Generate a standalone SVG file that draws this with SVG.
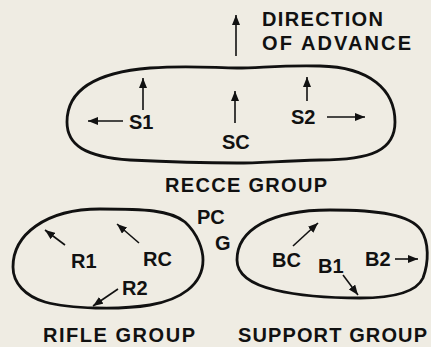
<svg xmlns="http://www.w3.org/2000/svg" width="431" height="347" viewBox="0 0 431 347">
<style>
.bg{fill:#efece3}
.outline{fill:none;stroke:#111;stroke-width:2.8;stroke-linejoin:round}
.arr{fill:none;stroke:#111;stroke-width:1.6;marker-end:url(#ah)}
text{font-family:"Liberation Sans",Arial,Helvetica,sans-serif;font-weight:bold;font-size:20px;fill:#111}
.title{font-size:20px}
</style>
<defs>
<marker id="ah" markerUnits="userSpaceOnUse" markerWidth="11" markerHeight="8" refX="10" refY="4" orient="auto">
<path d="M0,0 L10,4 L0,8 Z" fill="#111"/>
</marker>
</defs>
<rect class="bg" x="0" y="0" width="431" height="347"/>

<g id="recce-group">
<path class="outline" d="M67,122 C67,88 100,72 150,68 C190,65 215,68 237,68 C260,68 280,65 320,66 C370,67 395,90 395,122 C395,150 372,160 320,160 C280,161 260,163 237,163 C200,163 170,162 130,160 C85,157 67,145 67,122 Z"/>
<text x="129" y="129">S1</text>
<text x="222" y="149">SC</text>
<text x="291" y="124">S2</text>
<text class="title" x="165" y="192" textLength="162" lengthAdjust="spacing">RECCE GROUP</text>
</g>

<g id="direction">
<text class="title" x="262" y="26" textLength="121" lengthAdjust="spacing">DIRECTION</text>
<text class="title" x="262" y="50" textLength="149" lengthAdjust="spacing">OF ADVANCE</text>
</g>

<g id="rifle-group">
<path class="outline" d="M13,267 C13,235 45,209 100,209 C145,209 170,210 185,222 C198,234 203,250 203,260 C203,285 180,300 150,305 C120,310 70,309 45,302 C25,296 13,283 13,267 Z"/>
<text x="71" y="268">R1</text>
<text x="143" y="266">RC</text>
<text x="122" y="295">R2</text>
<text class="title" x="43" y="342" textLength="152" lengthAdjust="spacing">RIFLE GROUP</text>
</g>

<g id="hq">
<text x="197" y="224">PC</text>
<text x="215" y="250">G</text>
</g>

<g id="support-group">
<path class="outline" d="M237,260 C237,230 270,210 330,210 C380,210 410,215 421,230 C429,242 429,262 423,278 C416,293 390,298 360,298 C330,298 300,296 275,290 C250,284 237,274 237,260 Z"/>
<text x="272" y="267">BC</text>
<text x="318" y="273">B1</text>
<text x="365" y="266">B2</text>
<text class="title" x="238" y="342" textLength="189" lengthAdjust="spacing">SUPPORT GROUP</text>
</g>

<g id="connectors">
<line class="arr" x1="236" y1="56" x2="236" y2="15"/>
<line class="arr" x1="143" y1="110" x2="143" y2="78"/>
<line class="arr" x1="123" y1="121" x2="88" y2="121"/>
<line class="arr" x1="235" y1="123" x2="235" y2="91"/>
<line class="arr" x1="307" y1="101" x2="307" y2="77"/>
<line class="arr" x1="327" y1="117" x2="365" y2="117"/>
<line class="arr" x1="65" y1="245" x2="45" y2="230"/>
<line class="arr" x1="139" y1="243" x2="117" y2="224"/>
<line class="arr" x1="118" y1="289" x2="93" y2="306"/>
<line class="arr" x1="293" y1="246" x2="318" y2="223"/>
<line class="arr" x1="343" y1="275" x2="358" y2="295"/>
<line class="arr" x1="395" y1="259" x2="418" y2="259"/>
</g>
</svg>
